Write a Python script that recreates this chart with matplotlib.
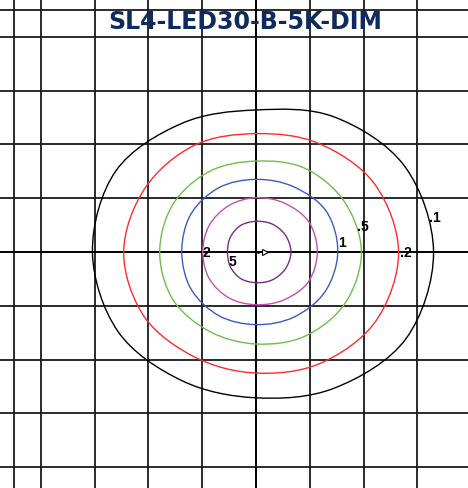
import matplotlib
matplotlib.use("Agg")
import matplotlib.pyplot as plt
import numpy as np
from matplotlib.path import Path
from matplotlib.patches import PathPatch

title = "SL4-LED30-B-5K-DIM"

# isolux contours: radius (grid units) at each angle (degrees)
angles_deg = [0, 30, 60, 90, 120, 150, 180, 210, 240, 270, 300, 330]
r_01 = [3.30, 3.19, 2.90, 2.64, 2.76, 3.01, 3.04, 2.96, 2.76, 2.71, 2.92, 3.22]
r_02 = [2.65, 2.54, 2.33, 2.20, 2.29, 2.38, 2.46, 2.40, 2.26, 2.25, 2.39, 2.57]
r_05 = [1.96, 1.89, 1.80, 1.69, 1.73, 1.78, 1.79, 1.78, 1.71, 1.71, 1.81, 1.91]
r_1 = [1.52, 1.51, 1.40, 1.35, 1.38, 1.40, 1.38, 1.39, 1.37, 1.35, 1.40, 1.48]
r_2 = [1.14, 1.13, 1.05, 1.01, 1.00, 1.00, 0.99, 1.00, 0.99, 0.98, 1.03, 1.12]
r_5 = [0.65, 0.63, 0.60, 0.57, 0.57, 0.55, 0.53, 0.55, 0.57, 0.57, 0.60, 0.63]

contour_labels = [".1", ".2", ".5", "1", "2", "5"]
contour_colors = ["#000000", "#ff2a2a", "#6cbf4a", "#3a5cc0", "#c050b4", "#7a2a88"]
label_x = [3.33, 2.79, 1.99, 1.59, -0.93, -0.43]
label_y = [0.64, -0.01, 0.46, 0.16, -0.01, -0.19]

CELL = 53.8
W, H = 468, 488
CX, CY = 256, 252

fig = plt.figure(figsize=(W / 100, H / 100), dpi=100)
ax = fig.add_axes([0, 0, 1, 1])
ax.set_xlim(-CX / CELL, (W - CX) / CELL)
ax.set_ylim(-(H - CY) / CELL, CY / CELL)
ax.axis("off")

# grid
for gx in [-4.5, -4, -3, -2, -1, 1, 2, 3]:
    ax.axvline(gx, color="#1a1a1a", lw=1.3, zorder=1)
for gy in [4.5, 4, 3, 2, 1, -1, -2, -3, -4]:
    ax.axhline(gy, color="#1a1a1a", lw=1.3, zorder=1)
ax.axvline(0, color="black", lw=1.4, zorder=1)
ax.axhline(0, color="black", lw=1.4, zorder=1)


def closed_smooth(radii):
    th = np.radians(angles_deg)
    r = np.asarray(radii)
    P = np.column_stack([r * np.cos(th), r * np.sin(th)])
    n = len(P)
    verts = [P[0]]
    codes = [Path.MOVETO]
    for i in range(n):
        p0, p1, p2, p3 = P[i - 1], P[i], P[(i + 1) % n], P[(i + 2) % n]
        c1 = p1 + (p2 - p0) / 6.0
        c2 = p2 - (p3 - p1) / 6.0
        verts += [c1, c2, p2]
        codes += [Path.CURVE4] * 3
    return Path(verts, codes)


for radii, col in zip([r_01, r_02, r_05, r_1, r_2, r_5], contour_colors):
    ax.add_patch(PathPatch(closed_smooth(radii), fill=False, edgecolor=col, lw=1.0, zorder=2))

for t, lx, ly in zip(contour_labels, label_x, label_y):
    ax.text(lx, ly, t, ha="center", va="center", fontsize=10, fontweight="bold",
            family="Liberation Sans", color="black", zorder=3)

# luminaire marker
ax.plot([0.03], [0], marker=".", color="black", ms=2, zorder=3)
ax.plot([0.17], [0], marker=">", mfc="white", mec="black", ms=5, mew=0.8, zorder=3)

fig.text(245 / W, 1 - 22 / H, title, ha="center", va="center", fontsize=17,
         fontweight="heavy", family="DejaVu Sans", color="#0d2b5e")

fig.savefig("out.png", dpi=100)
